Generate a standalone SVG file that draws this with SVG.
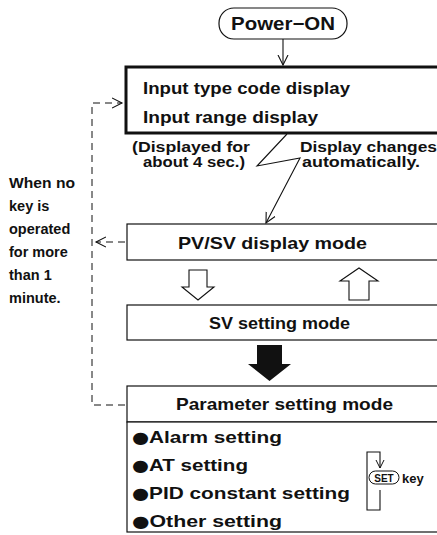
<svg xmlns="http://www.w3.org/2000/svg" width="437" height="535" viewBox="0 0 437 535">
<style>
.t{font-family:"Liberation Sans",Arial,sans-serif;font-weight:bold;fill:#111}
.bu{font-family:"DejaVu Sans",sans-serif;font-size:16px}
.b{fill:#fff;stroke:#111;stroke-width:1.2}
.ln{fill:none;stroke:#111;stroke-width:1.1}
.d{fill:none;stroke:#111;stroke-width:1;stroke-dasharray:7,5}
</style>
<defs>
<marker id="v" markerWidth="12" markerHeight="12" refX="10" refY="6" orient="auto" markerUnits="userSpaceOnUse">
<path d="M0,1 L10,6 L0,11" fill="none" stroke="#111" stroke-width="1.1"/>
</marker>
<marker id="vs" markerWidth="10" markerHeight="10" refX="8" refY="5" orient="auto" markerUnits="userSpaceOnUse">
<path d="M0,1 L8,5 L0,9" fill="none" stroke="#111" stroke-width="1"/>
</marker>
</defs>
<rect width="437" height="535" fill="#fff"/>

<g id="connectors">
<line class="ln" x1="283" y1="39" x2="283" y2="65" marker-end="url(#v)"/>
<polyline class="ln" points="287,134 257,166 300,158 266,223" marker-end="url(#v)"/>
<polyline class="d" points="125,405 92,405 92,103 122,103" marker-end="url(#v)"/>
<line class="d" x1="125" y1="242" x2="96" y2="242" marker-end="url(#v)"/>
<path d="M189,270 H207 V287 H214 L198,300 L182,287 H189 Z" fill="#fff" stroke="#111" stroke-width="1.1"/>
<path d="M349,300 H369 V281 H378 L359,268 L340,281 H349 Z" fill="#fff" stroke="#111" stroke-width="1.1"/>
<path d="M257,345 H282 V364 H291 L269.5,381 L248,364 H257 Z" fill="#111"/>
</g>

<g id="power-on">
<rect class="b" x="219" y="8" width="128" height="31" rx="15"/>
<text class="t" x="283" y="30" font-size="18" text-anchor="middle" textLength="104" lengthAdjust="spacingAndGlyphs">Power−ON</text>
</g>

<g id="input-display">
<rect x="126" y="67" width="314" height="66" fill="#fff" stroke="#111" stroke-width="3"/>
<text class="t" x="143" y="94" font-size="17" textLength="207" lengthAdjust="spacingAndGlyphs">Input type code display</text>
<text class="t" x="143" y="123" font-size="17" textLength="175" lengthAdjust="spacingAndGlyphs">Input range display</text>
</g>

<g id="notes">
<text class="t" x="132" y="152" font-size="14.5" textLength="118" lengthAdjust="spacingAndGlyphs">(Displayed for</text>
<text class="t" x="143" y="167" font-size="14.5" textLength="102" lengthAdjust="spacingAndGlyphs">about 4 sec.)</text>
<text class="t" x="300" y="152" font-size="14.5" textLength="137" lengthAdjust="spacingAndGlyphs">Display changes</text>
<text class="t" x="302" y="167" font-size="14.5" textLength="118" lengthAdjust="spacingAndGlyphs">automatically.</text>
<text class="t" x="9" y="188" font-size="14.5" textLength="66" lengthAdjust="spacingAndGlyphs">When no</text>
<text class="t" x="9" y="211" font-size="14.5">key is</text>
<text class="t" x="9" y="234" font-size="14.5">operated</text>
<text class="t" x="9" y="257" font-size="14.5">for more</text>
<text class="t" x="9" y="280" font-size="14.5">than 1</text>
<text class="t" x="9" y="303" font-size="14.5">minute.</text>
</g>

<g id="pv-sv">
<rect class="b" x="127" y="224" width="312" height="36"/>
<text class="t" x="178" y="249" font-size="17" textLength="189" lengthAdjust="spacingAndGlyphs">PV/SV display mode</text>
</g>

<g id="sv-setting">
<rect class="b" x="127" y="305" width="312" height="35"/>
<text class="t" x="209" y="329" font-size="17" textLength="141" lengthAdjust="spacingAndGlyphs">SV setting mode</text>
</g>

<g id="parameter-setting">
<rect class="b" x="127" y="386" width="312" height="36"/>
<text class="t" x="176" y="410" font-size="17" textLength="217" lengthAdjust="spacingAndGlyphs">Parameter setting mode</text>
<rect class="b" x="127" y="422" width="312" height="110"/>
<text class="t" x="132" y="443" font-size="17" textLength="150" lengthAdjust="spacingAndGlyphs"><tspan class="bu">●</tspan>Alarm setting</text>
<text class="t" x="132" y="471" font-size="17" textLength="116" lengthAdjust="spacingAndGlyphs"><tspan class="bu">●</tspan>AT setting</text>
<text class="t" x="132" y="499" font-size="17" textLength="218" lengthAdjust="spacingAndGlyphs"><tspan class="bu">●</tspan>PID constant setting</text>
<text class="t" x="132" y="527" font-size="17" textLength="150" lengthAdjust="spacingAndGlyphs"><tspan class="bu">●</tspan>Other setting</text>
</g>

<g id="set-key">
<polyline class="ln" points="380,490 380,510 367,510 367,452 380,452 380,468" marker-end="url(#vs)"/>
<rect x="369" y="471" width="30" height="13" rx="6.5" fill="#fff" stroke="#111" stroke-width="1"/>
<text class="t" x="384" y="481.5" font-size="10" text-anchor="middle">SET</text>
<text class="t" x="402" y="483" font-size="13">key</text>
</g>
</svg>
